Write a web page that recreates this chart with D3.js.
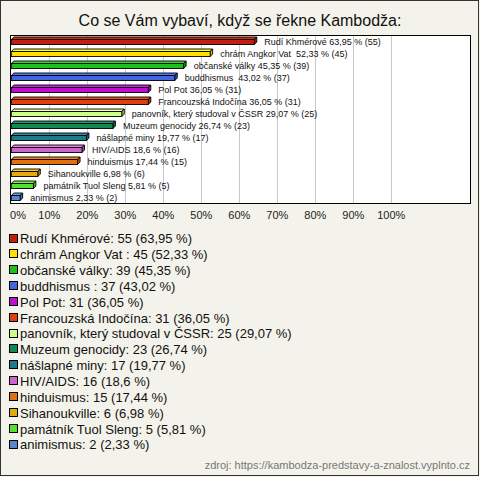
<!DOCTYPE html>
<html><head><meta charset="utf-8">
<script src="https://cdn.jsdelivr.net/npm/d3@7"></script>
<style>
html,body{margin:0;padding:0;background:#f4f3eb;}
svg text{font-family:"Liberation Sans",Arial,sans-serif;white-space:pre;}
</style></head>
<body>
<svg id="c" width="480" height="477"></svg>
<script>
const title = "Co se Vám vybaví, když se řekne Kambodža:";
const categories = ["Rudí Khmérové","chrám Angkor Vat ","občanské války","buddhismus ","Pol Pot","Francouzská Indočína","panovník, který studoval v ČSSR","Muzeum genocidy","nášlapné miny","HIV/AIDS","hinduismus","Sihanoukville","památník Tuol Sleng","animismus"];
const counts = [55,45,39,37,31,31,25,23,17,16,15,6,5,2];
const percents = [63.95,52.33,45.35,43.02,36.05,36.05,29.07,26.74,19.77,18.6,17.44,6.98,5.81,2.33];
const colors = ["#c0200e","#ffe000","#1fbf1f","#4466dd","#bb11cc","#e04010","#ccff88","#118855","#1f7a8a","#cc66cc","#e07010","#e0aa10","#55e033","#5b86cc"];
const tickValues = [0,10,20,30,40,50,60,70,80,90,100];
const source = "zdroj: https://kambodza-predstavy-a-znalost.vyplnto.cz";

const fmt = v => String(v).replace(".", ",");
const svg = d3.select("#c");

// outer border
svg.append("rect").attr("x",0.5).attr("y",0.5).attr("width",478).attr("height",475)
  .attr("fill","#f4f3eb").attr("stroke","#333");

svg.append("text").attr("x",240).attr("y",26).attr("text-anchor","middle")
  .attr("font-size",16).attr("fill","#111").text(title);

const plot = {l:10.5, t:35.5, r:470.5, b:203.5};
svg.append("rect").attr("x",plot.l).attr("y",plot.t).attr("width",plot.r-plot.l).attr("height",plot.b-plot.t)
  .attr("fill","#fff");

const x = d3.scaleLinear().domain([0,100]).range([11.3,391.3]);
const y = d3.scaleBand().domain(categories).range([35,203]);

// gridlines
svg.append("g").selectAll("line").data(tickValues.filter(t=>t>0)).join("line")
  .attr("x1",d=>Math.round(x(d))+0.5).attr("x2",d=>Math.round(x(d))+0.5)
  .attr("y1",plot.t).attr("y2",plot.b).attr("stroke","#c8c8c8");

// tick labels
svg.append("g").selectAll("text").data(tickValues).join("text")
  .attr("x",d=> d===0 ? 18 : x(d)).attr("y",219).attr("text-anchor","middle")
  .attr("font-size",11).attr("fill","#222").text(d=>d+"%");

// bars (3D style)
const bars = svg.append("g");
categories.forEach((c,i)=>{
  const x0 = x(0), x1 = x(percents[i]);
  const cy = y(c) + y.bandwidth()/2;
  const top = Math.round(cy) - 1.5, bot = Math.round(cy) + 3.5, d = 2.5;
  const col = d3.color(colors[i]);
  bars.append("path")
    .attr("d",`M${x0},${top} L${x0+d},${top-d} L${x1+d},${top-d} L${x1},${top} Z`)
    .attr("fill",col.brighter(0.5)).attr("stroke","#000").attr("stroke-width",0.9);
  bars.append("path")
    .attr("d",`M${x1},${top} L${x1+d},${top-d} L${x1+d},${bot-d} L${x1},${bot} Z`)
    .attr("fill",col.darker(0.6)).attr("stroke","#000").attr("stroke-width",0.9);
  bars.append("rect").attr("x",x0).attr("y",top).attr("width",x1-x0).attr("height",bot-top)
    .attr("fill",colors[i]).attr("stroke","#000").attr("stroke-width",0.9);
  bars.append("text").attr("x",x1+10).attr("y",cy+3.5)
    .attr("font-size",9).attr("fill","#111")
    .text(`${c} ${fmt(percents[i])} % (${counts[i]})`);
});

// plot border
svg.append("rect").attr("x",plot.l).attr("y",plot.t).attr("width",plot.r-plot.l).attr("height",plot.b-plot.t)
  .attr("fill","none").attr("stroke","#000");

// legend
const lg = svg.append("g");
categories.forEach((c,i)=>{
  const cy = 238.5 + i*15.85;
  lg.append("rect").attr("x",9.5).attr("y",Math.round(cy)-4.5).attr("width",8).attr("height",8)
    .attr("fill",colors[i]).attr("stroke","#000");
  lg.append("text").attr("x",20).attr("y",cy+4.8).attr("font-size",13).attr("fill","#111")
    .text(`${c}: ${counts[i]} (${fmt(percents[i])} %)`);
});

svg.append("text").attr("x",470).attr("y",469).attr("text-anchor","end")
  .attr("font-size",11).attr("fill","#777").text(source);
</script>
</body></html>
